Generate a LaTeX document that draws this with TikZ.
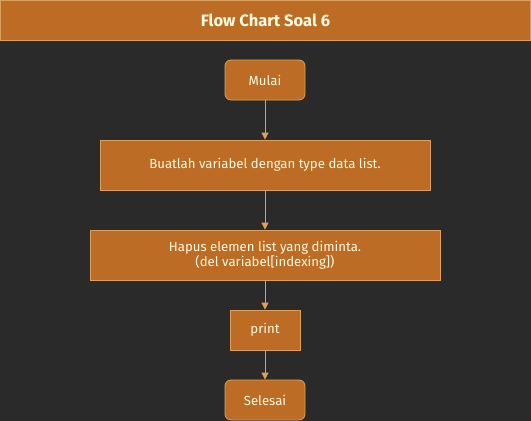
\documentclass[tikz,border=0pt]{standalone}
\usepackage{fontspec}
\setmainfont{Fira Sans}
\usetikzlibrary{arrows.meta}
\definecolor{bg}{HTML}{2A2A2A}
\definecolor{boxfill}{HTML}{BC6C25}
\definecolor{boxline}{HTML}{DDA15E}
\definecolor{boxtext}{HTML}{FEFAE0}
\tikzset{
  x=1pt,y=-1pt,
  base/.style={draw=boxline,fill=boxfill,text=boxtext,line width=0.8pt,inner sep=0pt,align=center,font=\fontsize{13.2}{15}\selectfont},
  procbox/.style={base},
  termbox/.style={base,rounded corners=6pt},
  conn/.style={draw=boxline,line width=0.8pt,-{Triangle[length=7pt,width=7pt]}}
}
\begin{document}
\begin{tikzpicture}
\fill[bg] (0,0) rectangle (531,421);
\useasboundingbox (0,0) rectangle (531,421);
\node[base,minimum width=530pt,minimum height=40pt,font=\bfseries\fontsize{16.5}{18}\selectfont] (title) at (265.5,20) {Flow Chart Soal 6};
\node[termbox,minimum width=80pt,minimum height=40pt] (start) at (265,80) {Mulai};
\node[procbox,minimum width=330pt,minimum height=50pt] (s1) at (265,165) {Buatlah variabel dengan type data list.};
\node[procbox,minimum width=350pt,minimum height=50pt] (s2) at (265,255) {Hapus elemen list yang diminta.\\(del variabel[indexing])};
\node[procbox,minimum width=70pt,minimum height=40pt] (s3) at (265,330) {print};
\node[termbox,minimum width=80pt,minimum height=40pt] (end) at (265,400) {Selesai};
\draw[conn] (start) -- (s1);
\draw[conn] (s1) -- (s2);
\draw[conn] (s2) -- (s3);
\draw[conn] (s3) -- (end);
\end{tikzpicture}
\end{document}
